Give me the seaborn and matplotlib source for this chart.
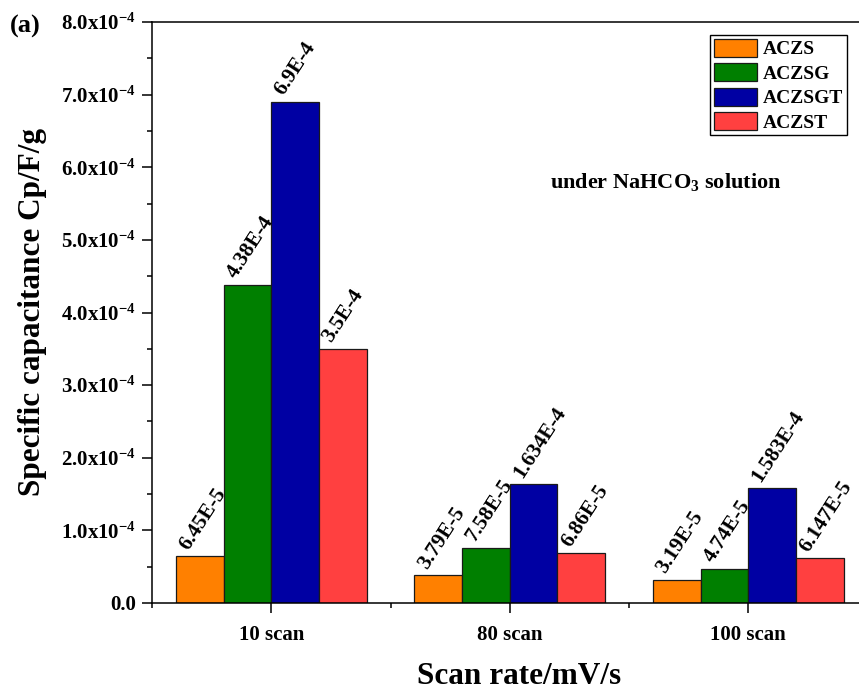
import numpy as np
import pandas as pd
import matplotlib
matplotlib.use("Agg")
import matplotlib.pyplot as plt
from matplotlib.ticker import MultipleLocator, FixedLocator, FuncFormatter
import seaborn as sns

# Scan conditions and samples
scans = ["10 scan", "80 scan", "100 scan"]
samples = ["ACZS", "ACZSG", "ACZSGT", "ACZST"]

# Specific capacitance (F/g) per sample at each scan condition
aczs = [6.45e-5, 3.79e-5, 3.19e-5]
aczsg = [4.38e-4, 7.58e-5, 4.74e-5]
aczsgt = [6.9e-4, 1.634e-4, 1.583e-4]
aczst = [3.5e-4, 6.86e-5, 6.147e-5]

colors = ["#FF8000", "#007F00", "#0000A3", "#FF4040"]

series = [aczs, aczsg, aczsgt, aczst]
df = pd.DataFrame(
    [(s, name, v) for name, vals in zip(samples, series) for s, v in zip(scans, vals)],
    columns=["scan", "sample", "value"],
)

sns.set_theme(style="ticks")
plt.rcParams["font.family"] = ["Liberation Serif", "DejaVu Serif"]
plt.rcParams["font.weight"] = "bold"
plt.rcParams["mathtext.fontset"] = "custom"
plt.rcParams["mathtext.rm"] = "Liberation Serif:bold"
plt.rcParams["mathtext.it"] = "Liberation Serif:bold"
plt.rcParams["mathtext.bf"] = "Liberation Serif:bold"
plt.rcParams["mathtext.default"] = "rm"
for key in ["text.color", "axes.labelcolor", "xtick.color", "ytick.color",
            "axes.edgecolor"]:
    plt.rcParams[key] = "black"

fig = plt.figure(figsize=(8.59, 6.90), dpi=100)
ax = fig.add_axes([152 / 859, 87 / 690, 707 / 859, 581 / 690])

sns.barplot(
    data=df, x="scan", y="value", hue="sample", order=scans, hue_order=samples,
    palette=colors, saturation=1, width=0.8, edgecolor="#1a1a1a", linewidth=0.9,
    ax=ax,
)

# value labels above each bar
def fmt_value(v):
    return np.format_float_scientific(v, trim="-", exp_digits=1).upper()

for cont, vals in zip(ax.containers, series):
    for bar, v in zip(cont, vals):
        ax.annotate(
            fmt_value(v), (bar.get_x(), bar.get_height()),
            xytext=(12, 2), textcoords="offset points",
            rotation=57, rotation_mode="anchor", ha="left", va="bottom",
            fontsize=15.5, fontweight="bold", color="black",
        )

ax.set_xlim(-0.5, -0.5 + 707 / 238.5)
ax.set_ylim(0, 8e-4)

# y axis ticks with power-of-ten labels
ax.yaxis.set_major_locator(MultipleLocator(1e-4))
ax.yaxis.set_minor_locator(MultipleLocator(0.5e-4))

def ytick_fmt(v, pos):
    m = v / 1e-4
    if abs(m) < 1e-9:
        return "0.0"
    return f"{m:.1f}x10$^{{-4}}$"

ax.yaxis.set_major_formatter(FuncFormatter(ytick_fmt))
ax.xaxis.set_minor_locator(FixedLocator([-0.5, 0.5, 1.5]))

ax.tick_params(axis="both", which="major", direction="out", length=7.2, width=1.1,
               labelsize=15, pad=4, color="black", labelcolor="black")
ax.tick_params(axis="both", which="minor", direction="out", length=3.8, width=1.1,
               color="black")
ax.tick_params(axis="x", which="major", pad=9)
for lab in ax.get_xticklabels() + ax.get_yticklabels():
    lab.set_fontweight("bold")

for side in ["left", "bottom", "top"]:
    ax.spines[side].set_visible(True)
    ax.spines[side].set_linewidth(1.1)
    ax.spines[side].set_color("black")
ax.spines["right"].set_visible(False)

ax.set_xlabel("Scan rate/mV/s", fontsize=22.5, fontweight="bold")
ax.set_ylabel("Specific capacitance Cp/F/g", fontsize=22.5, fontweight="bold")
ax.xaxis.set_label_coords(0.519, -0.102)
ax.yaxis.set_label_coords(-0.148, 0.5)

leg = ax.legend(
    loc="upper right", bbox_to_anchor=(847 / 859, 1 - 35 / 690),
    bbox_transform=fig.transFigure, borderaxespad=0,
    frameon=True, fancybox=False, edgecolor="black", framealpha=1,
    prop={"family": "Liberation Serif", "weight": "bold", "size": 14},
    handlelength=2.25, handleheight=1.05, labelspacing=0.25,
    handletextpad=0.3, borderpad=0.18, title=None,
)
leg.get_frame().set_linewidth(1.0)

ax.text(0.563, 0.725, "under NaHCO$_3$ solution", transform=ax.transAxes,
        fontsize=16, fontweight="bold", ha="left", va="center")

fig.text(10 / 859, 1 - 26 / 690, "(a)", fontsize=19, fontweight="bold",
         ha="left", va="center")

fig.savefig("out.png", dpi=100)
